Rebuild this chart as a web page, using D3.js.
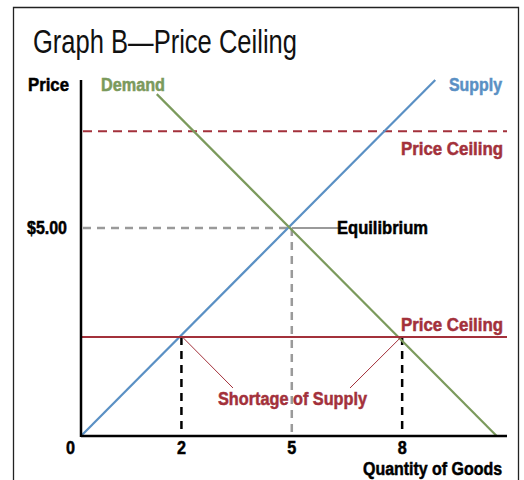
<!DOCTYPE html>
<html>
<head>
<meta charset="utf-8">
<script src="https://cdn.jsdelivr.net/npm/d3@7"></script>
<style>
  body { margin: 0; background: #fff; }
  svg text { font-family: "Liberation Sans", Arial, sans-serif; }
</style>
</head>
<body>
<div id="chart"></div>
<script>
// quantity / price points
const supply = [[-0.73, 0], [8.9, 8.56]];
const demand = [[1.33, 8.22], [10.57, 0]];
const ceilingHigh = 7.33;
const ceilingLow = 2.38;
const equilibrium = [5, 5];
const shortageQ = [2, 8];
const xTicks = [2, 5, 8];
const priceLabel = "$5.00";

const w = 524;
const h = 480;

const red = "#a3313b";
const green = "#7b9a5c";
const blue = "#5a90c4";
const gray = "#9a9a9a";

const x = d3.scaleLinear().domain([-0.73, 10.85]).range([81, 507]);
const y = d3.scaleLinear().domain([0, 8.56]).range([436, 80]);

const svg = d3.select("#chart")
              .append("svg")
              .attr("width", w)
              .attr("height", h)

// frame
svg.append("path")
   .attr("d", "M13.5,480 V7.5 H518.5 V480")
   .attr("fill", "none")
   .attr("stroke", "#222")
   .attr("stroke-width", 1.3)

// the source uses a condensed face, so squeeze text to its measured width
const fit = (sel, len) => sel.attr("textLength", len).attr("lengthAdjust", "spacingAndGlyphs");

svg.append("text")
   .attr("x", 33)
   .attr("y", 53)
   .attr("font-size", 34)
   .attr("fill", "#111")
   .text("Graph B\u2014Price Ceiling")
   .call(fit, 264)

const line = d3.line().x(d => x(d[0])).y(d => y(d[1]));

// high price ceiling (dashed)
svg.append("line")
   .attr("x1", x.range()[0] + 2).attr("x2", x.range()[1])
   .attr("y1", y(ceilingHigh)).attr("y2", y(ceilingHigh))
   .attr("stroke", red).attr("stroke-width", 2)
   .attr("stroke-dasharray", "9,6")

// equilibrium guides
svg.append("line")
   .attr("x1", x.range()[0] + 2).attr("x2", x(equilibrium[0]))
   .attr("y1", y(equilibrium[1])).attr("y2", y(equilibrium[1]))
   .attr("stroke", gray).attr("stroke-width", 2.5)
   .attr("stroke-dasharray", "8,6")
svg.append("line")
   .attr("x1", x(equilibrium[0])).attr("x2", x(equilibrium[0]))
   .attr("y1", y(equilibrium[1])).attr("y2", y(0))
   .attr("stroke", gray).attr("stroke-width", 2.5)
   .attr("stroke-dasharray", "8,6")
svg.append("line")
   .attr("x1", x(equilibrium[0])).attr("x2", x(equilibrium[0]) + 47)
   .attr("y1", y(equilibrium[1])).attr("y2", y(equilibrium[1]))
   .attr("stroke", gray).attr("stroke-width", 2)

// shortage drop lines
svg.selectAll(".drop")
   .data(shortageQ)
   .enter()
   .append("line")
   .attr("x1", d => x(d)).attr("x2", d => x(d))
   .attr("y1", y(ceilingLow)).attr("y2", y(0))
   .attr("stroke", "#000").attr("stroke-width", 2.5)
   .attr("stroke-dasharray", "8,6")

// curves
svg.append("path").attr("d", line(supply))
   .attr("fill", "none").attr("stroke", blue).attr("stroke-width", 2.2)
svg.append("path").attr("d", line(demand))
   .attr("fill", "none").attr("stroke", green).attr("stroke-width", 2.2)

// low price ceiling (solid)
svg.append("line")
   .attr("x1", x.range()[0]).attr("x2", x.range()[1])
   .attr("y1", y(ceilingLow)).attr("y2", y(ceilingLow))
   .attr("stroke", red).attr("stroke-width", 2)

// shortage leaders
const labelY = 388;
svg.append("line")
   .attr("x1", x(shortageQ[0]) + 1).attr("y1", y(ceilingLow))
   .attr("x2", 233).attr("y2", labelY)
   .attr("stroke", red).attr("stroke-width", 1)
svg.append("line")
   .attr("x1", x(shortageQ[1]) - 1).attr("y1", y(ceilingLow))
   .attr("x2", 350).attr("y2", labelY)
   .attr("stroke", red).attr("stroke-width", 1)

// axes
svg.append("line")
   .attr("x1", x.range()[0]).attr("x2", x.range()[0])
   .attr("y1", y.range()[1]).attr("y2", y.range()[0] + 1)
   .attr("stroke", "#000").attr("stroke-width", 2.5)
svg.append("line")
   .attr("x1", x.range()[0]).attr("x2", x.range()[1])
   .attr("y1", y.range()[0]).attr("y2", y.range()[0])
   .attr("stroke", "#000").attr("stroke-width", 2.5)

// heavy condensed labels: bold face plus a thin outline in the same colour
const bold = (sel, color = "#000") => sel.attr("font-weight", "bold").attr("font-size", 18)
   .attr("fill", color).attr("stroke", color).attr("stroke-width", 0.5);

svg.selectAll(".tick")
   .data(xTicks)
   .enter()
   .append("text")
   .attr("x", d => x(d))
   .attr("y", 454)
   .attr("text-anchor", "middle")
   .call(bold)
   .text(d => d)
   .call(fit, 9)

svg.append("text").attr("x", 66).attr("y", 454)
   .call(bold).text("0").call(fit, 9)
svg.append("text").attr("x", 363).attr("y", 475)
   .call(bold).text("Quantity of Goods").call(fit, 139)
svg.append("text").attr("x", 28).attr("y", 91)
   .call(bold).text("Price").call(fit, 41)
svg.append("text").attr("x", 27).attr("y", y(equilibrium[1]) + 6)
   .call(bold).text(priceLabel).call(fit, 40)
svg.append("text").attr("x", 101).attr("y", 91)
   .call(bold, green).text("Demand").call(fit, 64)
svg.append("text").attr("x", 449).attr("y", 91)
   .call(bold, blue).text("Supply").call(fit, 53)
svg.append("text").attr("x", 401).attr("y", y(ceilingHigh) + 24)
   .call(bold, red).text("Price Ceiling").call(fit, 102)
svg.append("text").attr("x", 401).attr("y", y(ceilingLow) - 6)
   .call(bold, red).text("Price Ceiling").call(fit, 102)
svg.append("text").attr("x", 337).attr("y", y(equilibrium[1]) + 6)
   .call(bold).text("Equilibrium").call(fit, 91)
svg.append("text").attr("x", 218).attr("y", 405)
   .call(bold, red).text("Shortage of Supply").call(fit, 149)
</script>
</body>
</html>
